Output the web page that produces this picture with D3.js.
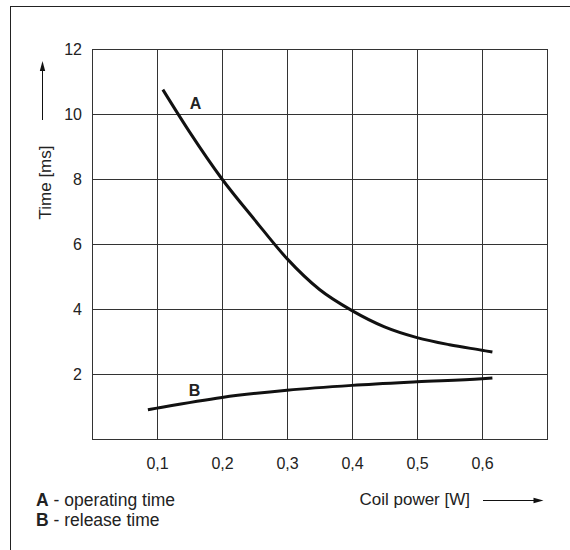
<html>
<head>
  <script src="https://d3js.org/d3.v7.min.js"></script>
</head>

<style>
  body { margin: 0; background: #fff; }
  text { font-family: "Liberation Sans", Arial, sans-serif; fill: #222; }
  .grid line { stroke: #333; stroke-width: 1px; }
  .grid .domain { display: none; }
  .labels .domain { display: none; }
  .curve { fill: none; stroke: #111; stroke-width: 3px; }
</style>

<body>
  <svg id="chart" width="570" height="550"></svg>

  <script>
    // values
    const xTicks = [0.1, 0.2, 0.3, 0.4, 0.5, 0.6];
    const xTickLabels = ["0,1", "0,2", "0,3", "0,4", "0,5", "0,6"];
    const yTicks = [2, 4, 6, 8, 10, 12];

    const powerA = [0.109, 0.15, 0.2, 0.25, 0.3, 0.35, 0.4, 0.45, 0.5, 0.55, 0.6, 0.616];
    const timeA = [10.75, 9.45, 8.0, 6.75, 5.55, 4.6, 3.95, 3.45, 3.12, 2.9, 2.73, 2.675];

    const powerB = [0.086, 0.1, 0.2, 0.3, 0.4, 0.5, 0.6, 0.616];
    const timeB = [0.9, 0.95, 1.28, 1.5, 1.65, 1.76, 1.855, 1.88];

    const svg = d3.select("svg#chart");
    const plotL = 92, plotR = 547, plotT = 49, plotB = 439;

    const xScale = d3.scaleLinear().domain([0, 0.7]).range([plotL, plotR]);
    const yScale = d3.scaleLinear().domain([0, 12]).range([plotB, plotT]);

    // outer frame (runs off the right and bottom edge)
    svg.append("rect")
      .attr("x", 10.5).attr("y", 6.5)
      .attr("width", 700).attr("height", 700)
      .attr("fill", "none").attr("stroke", "#222").attr("stroke-width", 1);

    // grid
    svg.append("g").attr("class", "grid")
      .attr("transform", `translate(0,${plotB})`)
      .call(d3.axisBottom(xScale).tickValues(xTicks).tickSize(-(plotB - plotT)).tickFormat(""));
    svg.append("g").attr("class", "grid")
      .attr("transform", `translate(${plotL},0)`)
      .call(d3.axisLeft(yScale).tickValues(yTicks.slice(0, -1)).tickSize(-(plotR - plotL)).tickFormat(""));

    svg.append("rect")
      .attr("x", plotL + 0.5).attr("y", plotT + 0.5)
      .attr("width", plotR - plotL).attr("height", plotB - plotT)
      .attr("fill", "none").attr("stroke", "#333").attr("stroke-width", 1);

    // tick labels
    svg.append("g").attr("class", "labels")
      .attr("transform", `translate(0,${plotB})`)
      .call(d3.axisBottom(xScale).tickValues(xTicks).tickSize(0).tickPadding(19)
        .tickFormat((d, i) => xTickLabels[i]));
    svg.append("g").attr("class", "labels")
      .attr("transform", `translate(${plotL},0)`)
      .call(d3.axisLeft(yScale).tickValues(yTicks).tickSize(0).tickPadding(10));
    svg.selectAll(".labels text")
      .style("font-family", "'Liberation Sans', Arial, sans-serif")
      .style("font-size", "16px").attr("fill", "#222");

    // curves
    const lineGen = d3.line()
      .x(d => xScale(d[0]))
      .y(d => yScale(d[1]))
      .curve(d3.curveMonotoneX);

    svg.append("path").attr("class", "curve")
      .datum(d3.zip(powerA, timeA))
      .attr("d", lineGen);
    svg.append("path").attr("class", "curve")
      .datum(d3.zip(powerB, timeB))
      .attr("d", lineGen);

    svg.append("text").attr("x", 195.5).attr("y", 109)
      .attr("text-anchor", "middle").style("font-size", "16px").style("font-weight", "bold").text("A");
    svg.append("text").attr("x", 194.5).attr("y", 396)
      .attr("text-anchor", "middle").style("font-size", "16px").style("font-weight", "bold").text("B");

    // axis titles + arrows
    svg.append("text")
      .attr("transform", "translate(51,182.5) rotate(-90)")
      .attr("text-anchor", "middle").style("font-size", "17px").text("Time [ms]");

    svg.append("line").attr("x1", 42.5).attr("x2", 42.5).attr("y1", 120).attr("y2", 68)
      .attr("stroke", "#111").attr("stroke-width", 1);
    svg.append("path").attr("d", "M42.5,61 L39.8,71 L45.2,71 Z").attr("fill", "#111");

    svg.append("text").attr("x", 470).attr("y", 505)
      .attr("text-anchor", "end").style("font-size", "17px").text("Coil power [W]");
    svg.append("line").attr("x1", 483).attr("x2", 536).attr("y1", 500.5).attr("y2", 500.5)
      .attr("stroke", "#111").attr("stroke-width", 1);
    svg.append("path").attr("d", "M543.5,500.5 L533.5,497.8 L533.5,503.2 Z").attr("fill", "#111");

    // legend
    const legend = [["A", " - operating time"], ["B", " - release time"]];
    legend.forEach((l, i) => {
      const t = svg.append("text").attr("x", 36).attr("y", 506 + i * 20).style("font-size", "17.5px");
      t.append("tspan").style("font-weight", "bold").text(l[0]);
      t.append("tspan").text(l[1]);
    });
  </script>
</body>
</html>
